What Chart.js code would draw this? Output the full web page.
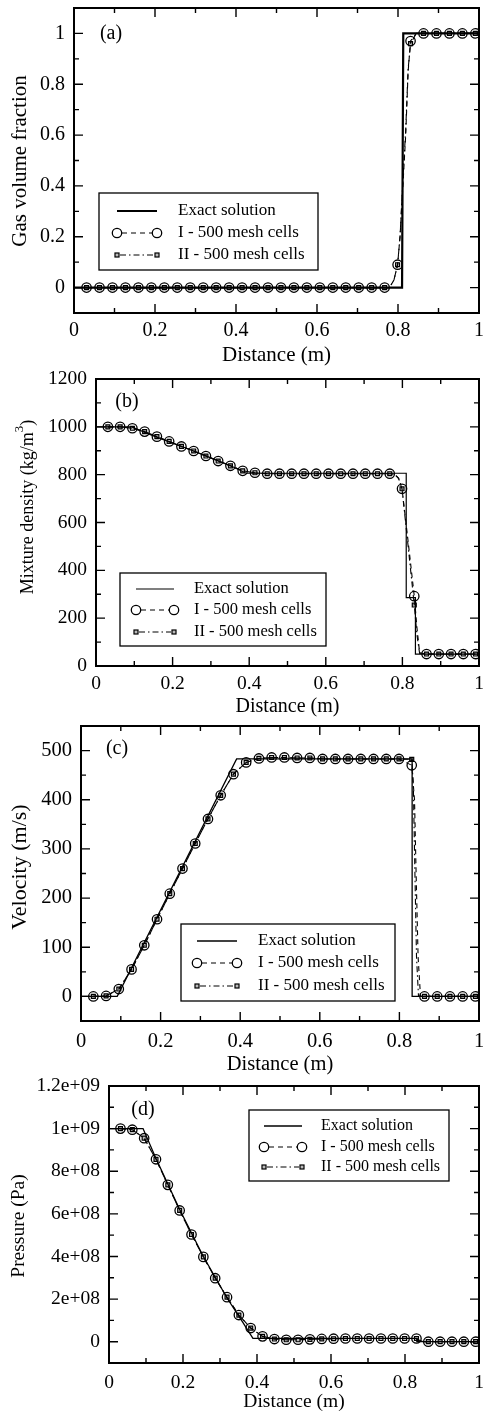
<!DOCTYPE html>
<html>
<head>
<meta charset="utf-8">
<script src="https://cdn.jsdelivr.net/npm/chart.js@4.4.0/dist/chart.umd.min.js"></script>
<style>
html, body { margin: 0; padding: 0; background: #fff; }
#wrap { position: relative; width: 485px; height: 1414px; overflow: hidden; }
canvas { position: absolute; left: 0; }
</style>
</head>
<body>
<div id="wrap">
  <canvas id="chartA" width="485" height="368" style="top:0px"></canvas>
  <canvas id="chartB" width="485" height="352" style="top:368px"></canvas>
  <canvas id="chartC" width="485" height="357" style="top:720px"></canvas>
  <canvas id="chartD" width="485" height="337" style="top:1077px"></canvas>
</div>
<script>
// marker positions (every 16th cell of the 500 mesh)
const xMark = [0.031, 0.063, 0.095, 0.127, 0.159, 0.191, 0.223, 0.255, 0.287, 0.319, 0.351,
  0.383, 0.415, 0.447, 0.479, 0.511, 0.543, 0.575, 0.607, 0.639, 0.671, 0.703, 0.735,
  0.767, 0.799, 0.831, 0.863, 0.895, 0.927, 0.959, 0.991];
const xTicks = [0, 0.2, 0.4, 0.6, 0.8, 1];
const xTickLabels = ['0', '0.2', '0.4', '0.6', '0.8', '1'];
const xMinor = [0.1, 0.3, 0.5, 0.7, 0.9];

// (a) gas volume fraction
const gasExactX = [0, 0.81, 0.813, 1];
const gasExactY = [0, 0, 1, 1];
const gasI = [0, 0, 0, 0, 0, 0, 0, 0, 0, 0, 0, 0, 0, 0, 0, 0, 0, 0, 0, 0, 0, 0, 0, 0, 0.09, 0.97, 1, 1, 1, 1, 1];
const gasII = [0, 0, 0, 0, 0, 0, 0, 0, 0, 0, 0, 0, 0, 0, 0, 0, 0, 0, 0, 0, 0, 0, 0, 0, 0.09, 0.96, 1, 1, 1, 1, 1];
const gasLineX = [0.779, 0.79, 0.805, 0.812, 0.819, 0.825, 0.845];
const gasLineI = [0, 0.03, 0.2, 0.4, 0.6, 0.85, 1];
const gasLineII = [0, 0.03, 0.2, 0.42, 0.62, 0.86, 1];
const gasYTicks = [0, 0.2, 0.4, 0.6, 0.8, 1];
const gasYLabels = ['0', '0.2', '0.4', '0.6', '0.8', '1'];
const gasYMinor = [0.1, 0.3, 0.5, 0.7, 0.9];

// (b) mixture density
const densExactX = [0, 0.093, 0.15, 0.2, 0.25, 0.3, 0.35, 0.392, 0.81, 0.81, 0.834, 0.834, 1];
const densExactY = [1000, 1000, 962, 932, 902, 870, 838, 806, 806, 286, 286, 50, 50];
const densI = [1000, 1000, 994, 980, 959, 939, 918, 899, 878, 857, 837, 816, 808,
  804, 804, 804, 804, 804, 804, 804, 804, 804, 804, 804, 741, 292, 50, 50, 50, 50, 50];
const densII = [1000, 1000, 994, 980, 959, 939, 918, 899, 878, 857, 837, 816, 808,
  804, 804, 804, 804, 804, 804, 804, 804, 804, 804, 804, 741, 255, 50, 50, 50, 50, 50];
const densLineX = [0.779, 0.79, 0.815, 0.838, 0.845];
const densLineI = [802, 785, 520, 160, 55];
const densLineII = [802, 785, 500, 130, 52];
const densYTicks = [0, 200, 400, 600, 800, 1000, 1200];
const densYLabels = ['0', '200', '400', '600', '800', '1000', '1200'];
const densYMinor = [100, 300, 500, 700, 900, 1100];

// (c) velocity
const velExactX = [0, 0.091, 0.391, 0.832, 0.832, 1];
const velExactY = [0, 0, 483, 483, 0, 0];
const velI = [0, 1, 15, 55, 104, 157, 209, 260, 311, 361, 409, 452, 476, 484, 486, 486, 485, 485,
  483, 483, 483, 483, 483, 483, 483, 470, 0, 0, 0, 0, 0];
const velII = [0, 1, 15, 55, 104, 157, 209, 260, 311, 361, 409, 452, 476, 484, 486, 486, 485, 485,
  483, 483, 483, 483, 483, 483, 483, 482, 0, 0, 0, 0, 0];
const velLineIX = [0.838, 0.842, 0.847, 0.853];
const velLineI = [400, 250, 80, 0];
const velLineIIX = [0.835, 0.839, 0.843, 0.848];
const velLineII = [430, 250, 80, 0];
const velYTicks = [0, 100, 200, 300, 400, 500];
const velYLabels = ['0', '100', '200', '300', '400', '500'];
const velYMinor = [50, 150, 250, 350, 450];

// (d) pressure
const presExactX = [0, 0.092, 0.127, 0.191, 0.255, 0.319, 0.36, 0.389, 0.832, 0.832, 1];
const presExactY = [1.0e9, 1.0e9, 8.6e8, 6.2e8, 4.0e8, 2.05e8, 0.95e8, 0.16e8, 0.16e8, 0, 0];
const presI = [1.0e9, 9.95e8, 9.55e8, 8.56e8, 7.36e8, 6.16e8, 5.03e8, 3.98e8, 2.98e8, 2.09e8, 1.25e8,
  0.64e8, 0.25e8, 0.125e8, 0.09e8, 0.09e8, 0.11e8, 0.13e8, 0.14e8, 0.15e8, 0.15e8, 0.15e8, 0.15e8,
  0.15e8, 0.15e8, 0.15e8, 0, 0, 0, 0, 0];
const presII = [1.0e9, 9.95e8, 9.55e8, 8.56e8, 7.36e8, 6.16e8, 5.03e8, 3.98e8, 2.98e8, 2.09e8, 1.25e8,
  0.64e8, 0.25e8, 0.125e8, 0.09e8, 0.09e8, 0.11e8, 0.13e8, 0.14e8, 0.15e8, 0.15e8, 0.15e8, 0.15e8,
  0.15e8, 0.15e8, 0.15e8, 0, 0, 0, 0, 0];
const presLineX = [0.84, 0.85];
const presLineI = [0.06e8, 0];
const presLineII = [0.05e8, 0];
const presYTicks = [0, 2e8, 4e8, 6e8, 8e8, 1e9, 1.2e9];
const presYLabels = ['0', '2e+08', '4e+08', '6e+08', '8e+08', '1e+09', '1.2e+09'];
const presYMinor = [1e8, 3e8, 5e8, 7e8, 9e8, 1.1e9];

const serif = "'Liberation Serif', 'Times New Roman', Times, serif";
Chart.defaults.font.family = serif;
Chart.defaults.color = '#000';

function pts(xs, ys) {
  return xs.map((x, i) => ({ x: x, y: ys[i] }));
}
function mergePts(xs1, ys1, xs2, ys2) {
  return pts(xs1, ys1).concat(pts(xs2, ys2)).sort((a, b) => a.x - b.x);
}

const DASH_I = [5, 4];
const DASH_II = [6, 3, 1.5, 3];

// frame plus inward ticks on all four sides
const frameTicks = {
  id: 'frameTicks',
  afterDatasetsDraw(chart, args, o) {
    const { ctx, chartArea: a } = chart;
    const sx = chart.scales.x, sy = chart.scales.y;
    ctx.save();
    ctx.strokeStyle = '#000';
    ctx.lineWidth = 1.4;
    ctx.beginPath();
    const xt = (vals, len) => vals.forEach(v => {
      const p = sx.getPixelForValue(v);
      ctx.moveTo(p, a.bottom); ctx.lineTo(p, a.bottom - len);
      ctx.moveTo(p, a.top); ctx.lineTo(p, a.top + len);
    });
    const yt = (vals, len) => vals.forEach(v => {
      const p = sy.getPixelForValue(v);
      ctx.moveTo(a.left, p); ctx.lineTo(a.left + len, p);
      ctx.moveTo(a.right, p); ctx.lineTo(a.right - len, p);
    });
    xt(xTicks, 9); xt(xMinor, 5);
    yt(o.yTicks, 9); yt(o.yMinor, 5);
    ctx.stroke();
    ctx.lineWidth = 2;
    ctx.strokeRect(a.left, a.top, a.right - a.left, a.bottom - a.top);
    ctx.restore();
  }
};

// panel tag, y title and the boxed legend
const decor = {
  id: 'decor',
  afterDraw(chart, args, o) {
    const ctx = chart.ctx;
    const fs = o.titleSize;
    ctx.save();
    ctx.fillStyle = '#000';
    ctx.strokeStyle = '#000';
    ctx.font = '20px ' + serif;
    ctx.textAlign = 'center';
    ctx.textBaseline = 'middle';
    ctx.fillText(o.tag, o.tagX, o.tagY);

    // y axis title, rotated
    ctx.save();
    ctx.translate(o.titleX, o.titleY);
    ctx.rotate(-Math.PI / 2);
    ctx.textAlign = 'left';
    ctx.font = fs + 'px ' + serif;
    const w1 = ctx.measureText(o.yTitle).width;
    let w2 = 0, w3 = 0;
    if (o.yTitleSup) {
      ctx.font = Math.round(fs * 0.7) + 'px ' + serif;
      w2 = ctx.measureText(o.yTitleSup).width;
      ctx.font = fs + 'px ' + serif;
      w3 = ctx.measureText(o.yTitleTail).width;
    }
    const x0 = -(w1 + w2 + w3) / 2;
    ctx.fillText(o.yTitle, x0, 0);
    if (o.yTitleSup) {
      ctx.font = Math.round(fs * 0.7) + 'px ' + serif;
      ctx.fillText(o.yTitleSup, x0 + w1, -fs * 0.45);
      ctx.font = fs + 'px ' + serif;
      ctx.fillText(o.yTitleTail, x0 + w1 + w2, 0);
    }
    ctx.restore();

    // legend
    const L = o.legend;
    ctx.fillStyle = '#fff';
    ctx.fillRect(L.x, L.y, L.w, L.h);
    ctx.lineWidth = 1.3;
    ctx.strokeRect(L.x, L.y, L.w, L.h);
    ctx.fillStyle = '#000';

    ctx.lineWidth = L.exactW;
    ctx.setLineDash([]);
    ctx.beginPath(); ctx.moveTo(L.x1, L.rows[0]); ctx.lineTo(L.x2, L.rows[0]); ctx.stroke();

    ctx.lineWidth = 1.1;
    ctx.setLineDash(DASH_I);
    ctx.beginPath(); ctx.moveTo(L.x1 + 5, L.rows[1]); ctx.lineTo(L.x2 - 5, L.rows[1]); ctx.stroke();
    ctx.setLineDash([]);
    ctx.lineWidth = 1.3;
    [L.x1, L.x2].forEach(cx => {
      ctx.beginPath(); ctx.arc(cx, L.rows[1], 4.7, 0, Math.PI * 2); ctx.stroke();
    });

    ctx.lineWidth = 1.1;
    ctx.setLineDash(DASH_II);
    ctx.beginPath(); ctx.moveTo(L.x1 + 3, L.rows[2]); ctx.lineTo(L.x2 - 3, L.rows[2]); ctx.stroke();
    ctx.setLineDash([]);
    ctx.lineWidth = 1.2;
    [L.x1, L.x2].forEach(cx => {
      ctx.fillStyle = '#bbb';
      ctx.fillRect(cx - 2, L.rows[2] - 2, 4, 4);
      ctx.strokeRect(cx - 2, L.rows[2] - 2, 4, 4);
    });

    ctx.fillStyle = '#000';
    ctx.font = L.size + 'px ' + serif;
    ctx.textAlign = 'left';
    ctx.textBaseline = 'middle';
    ctx.fillText('Exact solution', L.tx, L.rows[0]);
    ctx.fillText('I - 500 mesh cells', L.tx, L.rows[1]);
    ctx.fillText('II - 500 mesh cells', L.tx, L.rows[2]);
    ctx.restore();
  }
};

function makeChart(id, p) {
  const cv = document.getElementById(id);
  const H = cv.height;
  return new Chart(cv, {
    type: 'scatter',
    data: {
      datasets: [
        { label: 'Exact solution', data: pts(p.exX, p.exY), showLine: true, borderColor: '#000',
          borderWidth: p.exactW, pointRadius: 0, tension: 0 },
        { label: 'I line', data: mergePts(xMark, p.yI, p.lineIX, p.lineI), showLine: true, borderColor: '#000',
          borderWidth: 1.1, borderDash: DASH_I, pointRadius: 0, tension: 0 },
        { label: 'II line', data: mergePts(xMark, p.yII, p.lineIIX, p.lineII), showLine: true, borderColor: '#000',
          borderWidth: 1.1, borderDash: DASH_II, pointRadius: 0, tension: 0 },
        { label: 'I - 500 mesh cells', data: pts(xMark, p.yI), showLine: false, pointStyle: 'circle',
          pointRadius: 4.7, pointBorderWidth: 1.3, pointBorderColor: '#000', pointBackgroundColor: 'rgba(0,0,0,0)' },
        { label: 'II - 500 mesh cells', data: pts(xMark, p.yII), showLine: false, pointStyle: 'rect',
          pointRadius: 2.8, pointBorderWidth: 1.2, pointBorderColor: '#000', pointBackgroundColor: '#bbb' }
      ]
    },
    options: {
      responsive: false,
      animation: false,
      events: [],
      layout: { padding: { left: 0, top: p.top, right: 485 - p.right, bottom: 0 } },
      plugins: {
        legend: { display: false },
        tooltip: { enabled: false },
        frameTicks: { yTicks: p.yTicks, yMinor: p.yMinor },
        decor: p.decor
      },
      scales: {
        x: {
          type: 'linear', min: 0, max: 1,
          grid: { display: false, drawTicks: false }, border: { display: false },
          afterBuildTicks: s => { s.ticks = xTicks.map(v => ({ value: v })); },
          afterFit: s => { s.height = H - p.bottom; s.paddingLeft = 0; s.paddingRight = 0; },
          ticks: { color: '#000', font: { size: p.tickSize }, padding: p.xPad, maxRotation: 0, autoSkip: false,
            callback: v => xTickLabels[xTicks.indexOf(v)] },
          title: { display: true, text: 'Distance (m)', color: '#000', font: { size: p.xTitleSize },
            padding: { top: 0, bottom: p.titlePad } }
        },
        y: {
          type: 'linear', min: p.yMin, max: p.yMax,
          grid: { display: false, drawTicks: false }, border: { display: false },
          afterBuildTicks: s => { s.ticks = p.yTicks.map(v => ({ value: v })); },
          afterFit: s => { s.width = p.left; s.paddingTop = 0; s.paddingBottom = 0; },
          ticks: { color: '#000', font: { size: p.tickSize }, padding: 9, autoSkip: false,
            callback: v => p.yLabels[p.yTicks.indexOf(v)] }
        }
      }
    },
    plugins: [frameTicks, decor]
  });
}

makeChart('chartA', {
  exX: gasExactX, exY: gasExactY, yI: gasI, yII: gasII,
  lineIX: gasLineX, lineI: gasLineI, lineIIX: gasLineX, lineII: gasLineII,
  yMin: -0.1, yMax: 1.1, yTicks: gasYTicks, yLabels: gasYLabels, yMinor: gasYMinor,
  left: 74, right: 482, top: 8, bottom: 313, xPad: 6, titlePad: 0, exactW: 2.2,
  tickSize: 20, xTitleSize: 21,
  decor: { tag: '(a)', tagX: 111, tagY: 34, yTitle: 'Gas volume fraction', titleSize: 21, titleX: 20, titleY: 161,
    legend: { x: 99, y: 193, w: 219, h: 77, rows: [211, 233, 255], x1: 117, x2: 157, tx: 178, size: 17, exactW: 2.2 } }
});

makeChart('chartB', {
  exX: densExactX, exY: densExactY, yI: densI, yII: densII,
  lineIX: densLineX, lineI: densLineI, lineIIX: densLineX, lineII: densLineII,
  yMin: 0, yMax: 1200, yTicks: densYTicks, yLabels: densYLabels, yMinor: densYMinor,
  left: 96, right: 482, top: 11, bottom: 298, xPad: 6, titlePad: 1, exactW: 1.2,
  tickSize: 19.5, xTitleSize: 20,
  decor: { tag: '(b)', tagX: 127, tagY: 34, yTitle: 'Mixture density (kg/m', yTitleSup: '3', yTitleTail: ')',
    titleSize: 18, titleX: 28, titleY: 139,
    legend: { x: 120, y: 205, w: 206, h: 73, rows: [221, 242, 264], x1: 136, x2: 174, tx: 194, size: 16.5, exactW: 1.2 } }
});

makeChart('chartC', {
  exX: velExactX, exY: velExactY, yI: velI, yII: velII,
  lineIX: velLineIX, lineI: velLineI, lineIIX: velLineIIX, lineII: velLineII,
  yMin: -50, yMax: 550, yTicks: velYTicks, yLabels: velYLabels, yMinor: velYMinor,
  left: 81, right: 482, top: 3, bottom: 301, xPad: 8, titlePad: 0, exactW: 1.3,
  tickSize: 20.5, xTitleSize: 20.5,
  decor: { tag: '(c)', tagX: 117, tagY: 29, yTitle: 'Velocity (m/s)', titleSize: 22, titleX: 20, titleY: 147,
    legend: { x: 181, y: 204, w: 214, h: 77, rows: [221, 243, 266], x1: 197, x2: 237, tx: 258, size: 17, exactW: 1.3 } }
});

makeChart('chartD', {
  exX: presExactX, exY: presExactY, yI: presI, yII: presII,
  lineIX: presLineX, lineI: presLineI, lineIIX: presLineX, lineII: presLineII,
  yMin: -1e8, yMax: 1.2e9, yTicks: presYTicks, yLabels: presYLabels, yMinor: presYMinor,
  left: 109, right: 481, top: 9, bottom: 286, xPad: 8, titlePad: 0, exactW: 1.3,
  tickSize: 19.5, xTitleSize: 19.5,
  decor: { tag: '(d)', tagX: 143, tagY: 33, yTitle: 'Pressure (Pa)', titleSize: 19.5, titleX: 19, titleY: 149,
    legend: { x: 249, y: 33, w: 200, h: 71, rows: [49, 70, 90], x1: 264, x2: 302, tx: 321, size: 16, exactW: 1.3 } }
});
</script>
</body>
</html>
